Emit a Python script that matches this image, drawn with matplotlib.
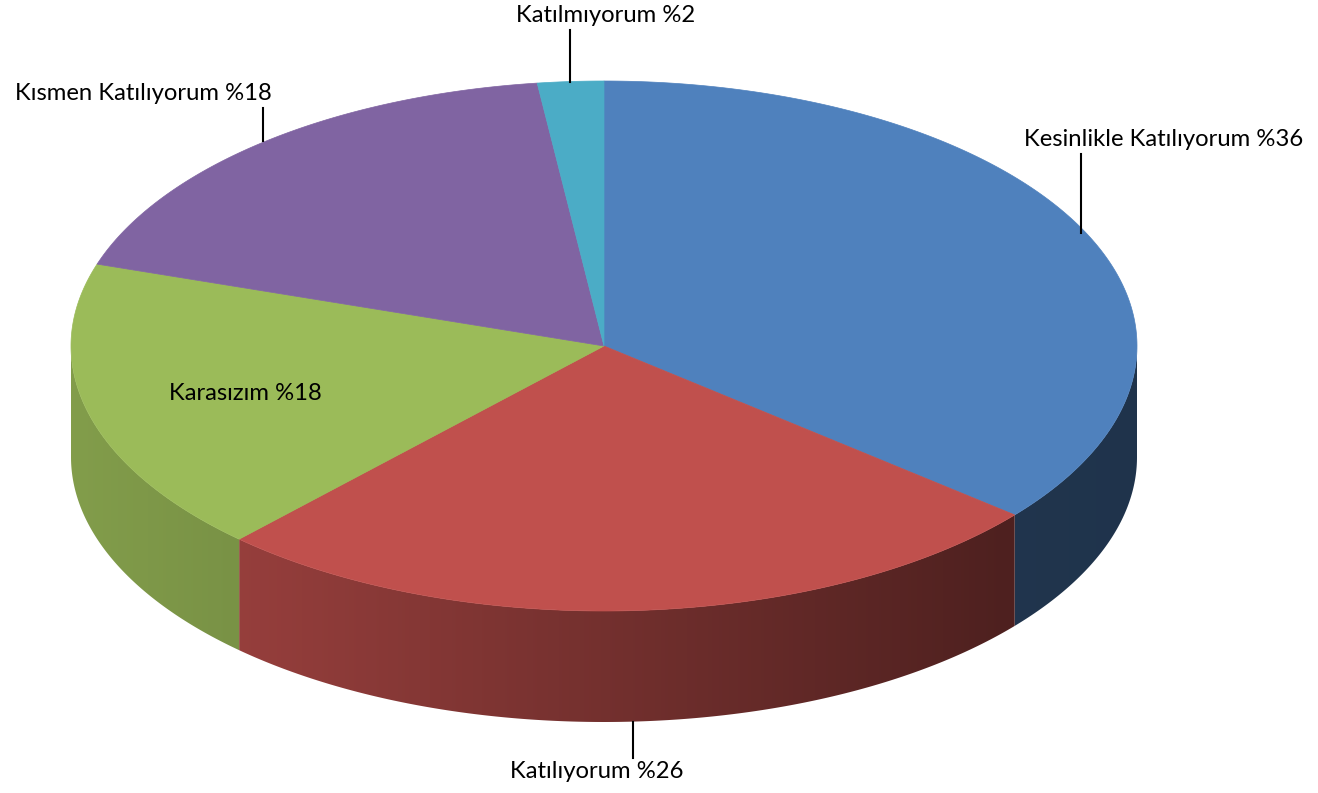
import numpy as np
import matplotlib.pyplot as plt
from matplotlib.patches import Polygon

labels = ['Kesinlikle Katılıyorum', 'Katılıyorum', 'Karasızım', 'Kısmen Katılıyorum', 'Katılmıyorum']
values = [36, 26, 18, 18, 2]
colors = ['#4F81BD', '#C0504D', '#9BBB59', '#8064A2', '#4BACC6']

# geometry of the projected pie, in pixels
cx, cy = 604, 346
rx, ry = 533, 265
depth = 111

plt.rcParams['font.family'] = ['Lato', 'DejaVu Sans']

fig = plt.figure(figsize=(13.18, 7.93), dpi=100)
ax = fig.add_axes([0, 0, 1, 1])


def rgb(h):
    h = h.lstrip('#')
    return np.array([int(h[i:i + 2], 16) for i in (0, 2, 4)]) / 255.0


def shade(x):
    # side lighting: lighter on the left, darker on the right
    return np.interp(x, [71, 240, 1000, 1138], [0.84, 0.78, 0.41, 0.40])


fracs = np.array(values) / sum(values)
edges = -90 + 360 * np.concatenate([[0], np.cumsum(fracs)])

# sides (front half only), filled with a horizontal gradient
for i in range(len(values)):
    a0, a1 = max(edges[i], 0), min(edges[i + 1], 180)
    if a1 <= a0:
        continue
    ts = np.radians(np.linspace(a0, a1, 300))
    xs = cx + rx * np.cos(ts)
    ys = cy + ry * np.sin(ts)
    pts = list(zip(xs, ys)) + list(zip(xs[::-1], ys[::-1] + depth))
    side = Polygon(pts, closed=True, facecolor='none', edgecolor='none')
    ax.add_patch(side)
    x0, x1 = xs.min() - 2, xs.max() + 2
    gx = np.linspace(x0, x1, 400)
    grad = np.clip(rgb(colors[i])[None, :] * shade(gx)[:, None], 0, 1)[None, :, :]
    im = ax.imshow(grad, extent=(x0, x1, ys.max() + depth + 2, ys.min() - 2),
                   aspect='auto', interpolation='bilinear', zorder=1)
    im.set_clip_path(side)

# top faces
for i in range(len(values)):
    ts = np.radians(np.linspace(edges[i], edges[i + 1], 200))
    pts = [(cx, cy)] + [(cx + rx * np.cos(t), cy + ry * np.sin(t)) for t in ts]
    ax.add_patch(Polygon(pts, closed=True, facecolor=colors[i], edgecolor=colors[i],
                         linewidth=0.5, zorder=2))

# labels
label_pos = [(1164, 139), (597, 772), (245, 394), (143, 94), (606, 16)]
leaders = [((1081, 154), (1081, 233)), ((633, 722), (633, 758)), None,
           ((263, 108), (263, 141)), ((570, 30), (570, 82))]
for i in range(len(values)):
    ax.text(label_pos[i][0], label_pos[i][1], f'{labels[i]} %{values[i]}',
            ha='center', va='center', fontsize=17.2, color='black', zorder=3)
    if leaders[i]:
        (xa, ya), (xb, yb) = leaders[i]
        ax.plot([xa, xb], [ya, yb], color='black', linewidth=1.5, zorder=3)

ax.set_xlim(0, 1318)
ax.set_ylim(793, 0)
ax.axis('off')

fig.savefig('out.png', dpi=100)
